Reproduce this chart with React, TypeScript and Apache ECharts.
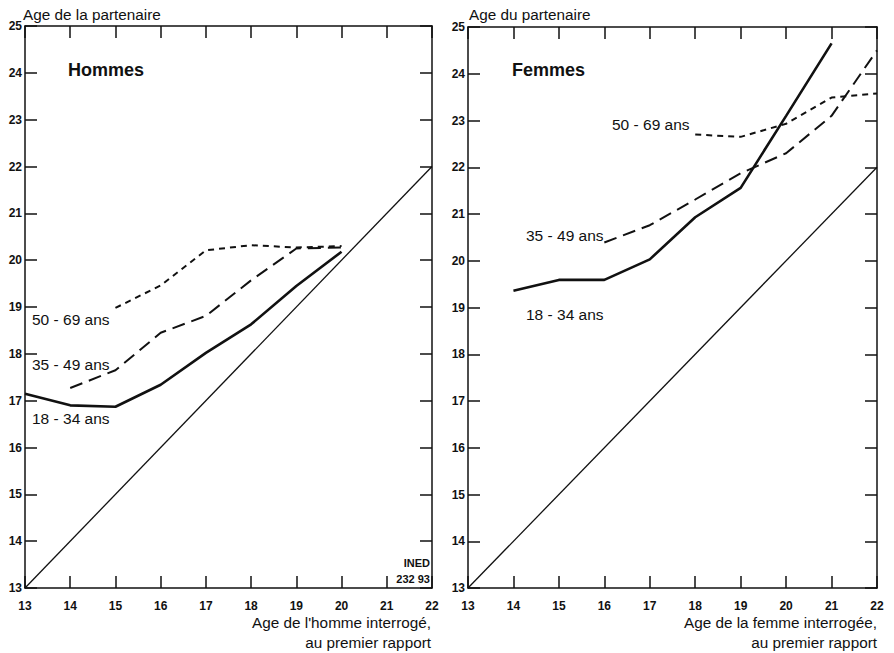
import React, { useEffect, useRef } from "react";
import * as echarts from "echarts";

const FONT = "'Liberation Sans', Arial, Helvetica, sans-serif";
const INK = "#111";

// Axis ranges / ticks
const xMin = 13, xMax = 22;
const yMin = 13, yMax = 25;

// Diagonal reference (partner same age)
const diagX = [13, 22];
const diagY = [13, 22];

// Hommes
const h1834X = [13, 14, 15, 16, 17, 18, 19, 20];
const h1834Y = [17.15, 16.9, 16.87, 17.34, 18.02, 18.63, 19.45, 20.18];
const h3549X = [14, 15, 16, 17, 18, 19, 20];
const h3549Y = [17.27, 17.65, 18.45, 18.81, 19.57, 20.25, 20.27];
const h5069X = [15, 16, 17, 18, 19, 20];
const h5069Y = [18.98, 19.46, 20.21, 20.32, 20.27, 20.3];

// Femmes
const f1834X = [14, 15, 16, 17, 18, 19, 20, 21];
const f1834Y = [19.36, 19.59, 19.59, 20.03, 20.93, 21.56, 23.1, 24.65];
const f3549X = [16, 17, 18, 19, 20, 21, 22];
const f3549Y = [20.39, 20.76, 21.31, 21.87, 22.3, 23.1, 24.5];
const f5069X = [18, 19, 20, 21, 22];
const f5069Y = [22.7, 22.65, 22.93, 23.49, 23.58];

const pairs = (xs: number[], ys: number[]) => xs.map((x, i) => [x, ys[i]]);

function xAxes(gridIndex: number) {
  const base = {
    type: "value" as const,
    gridIndex,
    min: xMin,
    max: xMax,
    interval: 1,
    splitLine: { show: false },
    axisLine: { show: true, onZero: false, lineStyle: { color: INK, width: 1.5 } },
    axisTick: { show: true, inside: true, length: 12, lineStyle: { color: INK, width: 1.5 } },
  };
  return [
    {
      ...base,
      position: "bottom",
      axisLabel: { show: true, color: INK, fontWeight: "bold", fontSize: 12, fontFamily: FONT, margin: 12 },
    },
    { ...base, position: "top", axisLabel: { show: false } },
  ];
}

function yAxes(gridIndex: number) {
  const base = {
    type: "value" as const,
    gridIndex,
    min: yMin,
    max: yMax,
    interval: 1,
    splitLine: { show: false },
    axisLine: { show: true, onZero: false, lineStyle: { color: INK, width: 1.5 } },
    axisTick: { show: true, inside: true, length: 12, lineStyle: { color: INK, width: 1.5 } },
  };
  return [
    {
      ...base,
      position: "left",
      axisLabel: { show: true, color: INK, fontWeight: "bold", fontSize: 12, fontFamily: FONT, margin: 3 },
    },
    { ...base, position: "right", axisLabel: { show: false } },
  ];
}

function line(name: string, xi: number, yi: number, data: number[][], width: number, type: any) {
  return {
    name,
    type: "line",
    xAxisIndex: xi,
    yAxisIndex: yi,
    data,
    symbol: "none",
    silent: true,
    lineStyle: { color: INK, width, type },
  };
}

function txt(text: string, x: number, y: number, font: string, align = "left") {
  return {
    type: "text",
    x,
    y,
    silent: true,
    style: { text, fill: INK, font, textAlign: align, textVerticalAlign: "middle" },
  };
}

const lbl = `15.5px ${FONT}`;
const ttl = `15.3px ${FONT}`;

const option: any = {
  animation: false,
  backgroundColor: "#fff",
  grid: [
    { left: 25, top: 26, width: 407, height: 562 },
    { left: 468, top: 27, width: 409, height: 561 },
  ],
  xAxis: [...xAxes(0), ...xAxes(1)],
  yAxis: [...yAxes(0), ...yAxes(1)],
  series: [
    line("diag H", 0, 0, pairs(diagX, diagY), 1.3, "solid"),
    line("H 18-34", 0, 0, pairs(h1834X, h1834Y), 2.6, "solid"),
    line("H 35-49", 0, 0, pairs(h3549X, h3549Y), 2, [13, 7]),
    line("H 50-69", 0, 0, pairs(h5069X, h5069Y), 2, [6, 5]),
    line("diag F", 2, 2, pairs(diagX, diagY), 1.3, "solid"),
    line("F 18-34", 2, 2, pairs(f1834X, f1834Y), 2.6, "solid"),
    line("F 35-49", 2, 2, pairs(f3549X, f3549Y), 2, [13, 7]),
    line("F 50-69", 2, 2, pairs(f5069X, f5069Y), 2, [6, 5]),
  ],
  graphic: [
    txt("Age de la partenaire", 23, 14, ttl),
    txt("Age du partenaire", 469, 14, ttl),
    txt("Hommes", 68, 70, `bold 18px ${FONT}`),
    txt("Femmes", 512, 70, `bold 18px ${FONT}`),
    txt("50 - 69 ans", 32, 319, lbl),
    txt("35 - 49 ans", 32, 364, lbl),
    txt("18 - 34 ans", 32, 418, lbl),
    txt("50 - 69 ans", 612, 124, lbl),
    txt("35 - 49 ans", 526, 235, lbl),
    txt("18 - 34 ans", 526, 314, lbl),
    txt("INED", 430, 563, `bold 11px ${FONT}`, "right"),
    txt("232 93", 430, 579, `bold 11px ${FONT}`, "right"),
    txt("Age de l'homme interrogé,", 431, 622, ttl, "right"),
    txt("au premier rapport", 431, 642, ttl, "right"),
    txt("Age de la femme interrogée,", 877, 622, ttl, "right"),
    txt("au premier rapport", 877, 642, ttl, "right"),
  ],
};

export default function App() {
  const ref = useRef<HTMLDivElement>(null);
  useEffect(() => {
    document.body.style.margin = "0";
    const chart = echarts.init(ref.current!, null, { renderer: "svg" });
    chart.setOption(option);
    return () => chart.dispose();
  }, []);
  return <div ref={ref} style={{ width: 894, height: 653 }} />;
}
